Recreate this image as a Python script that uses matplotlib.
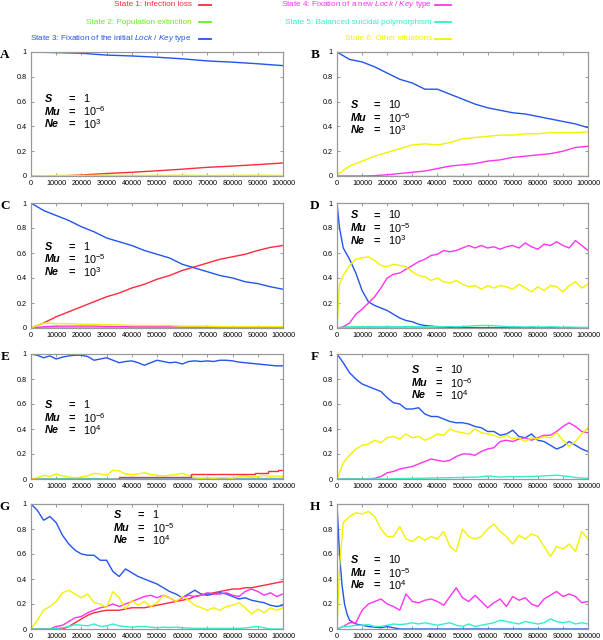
import numpy as np
import matplotlib
matplotlib.use('Agg')
import matplotlib.pyplot as plt
from matplotlib.lines import Line2D

plt.rcParams['font.family'] = ['Liberation Sans', 'DejaVu Sans']
plt.rcParams['mathtext.fontset'] = 'custom'
plt.rcParams['mathtext.rm'] = 'Liberation Sans'
plt.rcParams['mathtext.it'] = 'Liberation Sans:italic'
plt.rcParams['mathtext.bf'] = 'Liberation Sans:bold'

# ---------------- data ----------------
state_labels = [
    'State 1: Infection loss',
    'State 2: Population extinction',
    r'State 3: Fixation of the initial $\mathit{Lock\ /\ Key}$ type',
    r'State 4: Fixation of a new $\mathit{Lock\ /\ Key}$ type',
    'State 5: Balanced suicidal polymorphism',
    'State 6: Other situations',
]
state_colors = ['#ff2a3c', '#66ee22', '#2255ee', '#ff33ee', '#33eecc', '#f2f200']

x_ticks = [0, 10000, 20000, 30000, 40000, 50000, 60000, 70000, 80000, 90000, 100000]
y_ticks = [0, 0.2, 0.4, 0.6, 0.8, 1]
y_tick_labels = ['0', '0.2', '0.4', '0.6', '0.8', '1']

gen10 = np.arange(0, 100001, 10000)
gen5 = np.arange(0, 100001, 5000)
gen2 = np.arange(0, 100001, 2500)
gen2e = np.concatenate(([0, 1000], np.arange(2500, 100001, 2500)))

# Panel A  (S=1, Mu=1e-6, Ne=1e3)
a_red = [0, 0, 0.008, 0.02, 0.03, 0.042, 0.055, 0.07, 0.08, 0.092, 0.105]
a_green = [0, 0.002, 0.002, 0.002, 0.002, 0.002, 0.002, 0.002, 0.002, 0.002, 0.002]
a_blue = [1.0, 0.995, 0.99, 0.975, 0.968, 0.958, 0.945, 0.928, 0.918, 0.905, 0.89]
a_yellow = [0, 0.005, 0.004, 0.006, 0.004, 0.005, 0.006, 0.004, 0.005, 0.006, 0.004]

# Panel B  (S=10, Mu=1e-6, Ne=1e3)
b_green = [0.002, 0.002, 0.002, 0.002, 0.002, 0.002, 0.002, 0.002, 0.002, 0.002, 0.002,
           0.002, 0.002, 0.002, 0.002, 0.002, 0.002, 0.002, 0.002, 0.002, 0.002]
b_blue = [1.0, 0.94, 0.92, 0.88, 0.83, 0.78, 0.75, 0.70, 0.70, 0.66, 0.62,
          0.58, 0.55, 0.53, 0.51, 0.50, 0.48, 0.46, 0.44, 0.42, 0.39]
b_magenta = [0, 0, 0, 0.003, 0.01, 0.02, 0.03, 0.04, 0.06, 0.08, 0.09,
             0.10, 0.12, 0.13, 0.15, 0.16, 0.17, 0.18, 0.20, 0.23, 0.24]
b_yellow = [0.01, 0.08, 0.12, 0.16, 0.19, 0.22, 0.25, 0.26, 0.25, 0.27, 0.30,
            0.31, 0.32, 0.33, 0.33, 0.34, 0.34, 0.35, 0.35, 0.35, 0.355]

# Panel C  (S=1, Mu=1e-5, Ne=1e3)
c_red = [0.0, 0.04, 0.09, 0.13, 0.17, 0.21, 0.25, 0.28, 0.32, 0.35, 0.39,
         0.42, 0.46, 0.49, 0.52, 0.55, 0.57, 0.59, 0.62, 0.645, 0.66]
c_green = [0, 0.003, 0.003, 0.002, 0.002, 0.002, 0.002, 0.002, 0.002, 0.002, 0.002,
           0.002, 0.002, 0.002, 0.002, 0.002, 0.002, 0.002, 0.002, 0.002, 0.002]
c_blue = [1.0, 0.94, 0.90, 0.86, 0.81, 0.77, 0.72, 0.69, 0.66, 0.62, 0.59,
          0.56, 0.51, 0.48, 0.45, 0.42, 0.40, 0.37, 0.355, 0.33, 0.31]
c_magenta = [0.0, 0.01, 0.015, 0.015, 0.015, 0.015, 0.012, 0.012, 0.01, 0.01, 0.01,
             0.01, 0.008, 0.008, 0.008, 0.008, 0.006, 0.006, 0.006, 0.006, 0.005]
c_yellow = [0.0, 0.04, 0.035, 0.035, 0.03, 0.03, 0.025, 0.025, 0.02, 0.02, 0.02,
            0.02, 0.015, 0.015, 0.015, 0.012, 0.01, 0.01, 0.01, 0.01, 0.01]

# Panel D  (S=10, Mu=1e-5, Ne=1e3)  -- on gen2e grid (42 points)
d_blue = [1.0, 0.80, 0.64, 0.55, 0.44, 0.30, 0.21, 0.18, 0.16, 0.14,
          0.11, 0.08, 0.06, 0.05, 0.03, 0.02, 0.015, 0.01, 0.008, 0.005,
          0.004, 0.003, 0.003, 0.002, 0.002, 0.002, 0.002, 0.001, 0.001, 0.001,
          0.001, 0.001, 0.001, 0.001, 0.001, 0.001, 0.001, 0.001, 0.001, 0.001,
          0.001, 0.001]
d_magenta = [0, 0.0, 0.01, 0.04, 0.11, 0.15, 0.20, 0.25, 0.32, 0.40,
             0.43, 0.44, 0.47, 0.50, 0.53, 0.55, 0.58, 0.59, 0.62, 0.61,
             0.62, 0.64, 0.66, 0.64, 0.66, 0.64, 0.65, 0.63, 0.65, 0.66,
             0.64, 0.68, 0.65, 0.63, 0.67, 0.66, 0.69, 0.66, 0.64, 0.70,
             0.66, 0.62]
d_yellow = [0, 0.35, 0.42, 0.50, 0.55, 0.56, 0.57, 0.54, 0.50, 0.49,
            0.51, 0.50, 0.49, 0.45, 0.42, 0.41, 0.38, 0.40, 0.37, 0.36,
            0.38, 0.35, 0.33, 0.34, 0.31, 0.34, 0.32, 0.34, 0.33, 0.31,
            0.35, 0.32, 0.29, 0.33, 0.30, 0.34, 0.33, 0.29, 0.34, 0.37,
            0.32, 0.35]
# on gen2 grid (41 points)
d_green = [0, 0.008, 0.008, 0.006, 0.005, 0.004, 0.003, 0.003, 0.002, 0.002,
           0.002, 0.002, 0.002, 0.002, 0.002, 0.002, 0.002, 0.002, 0.002, 0.002,
           0.002, 0.002, 0.002, 0.002, 0.002, 0.002, 0.002, 0.002, 0.002, 0.002,
           0.002, 0.002, 0.002, 0.002, 0.002, 0.002, 0.002, 0.002, 0.002, 0.002, 0.002]
d_cyan = [0, 0.005, 0.008, 0.01, 0.01, 0.012, 0.01, 0.01, 0.012, 0.01,
          0.01, 0.012, 0.01, 0.01, 0.01, 0.012, 0.01, 0.01, 0.012, 0.01,
          0.012, 0.015, 0.018, 0.02, 0.02, 0.018, 0.015, 0.012, 0.01, 0.01,
          0.008, 0.01, 0.008, 0.008, 0.01, 0.008, 0.006, 0.008, 0.006, 0.005, 0.005]

# Panel E  (S=1, Mu=1e-6, Ne=1e4)
e_blue = [1.0, 0.99, 0.97, 0.985, 0.96, 0.975, 0.985, 0.99, 0.99, 0.98,
          0.95, 0.96, 0.97, 0.95, 0.93, 0.94, 0.945, 0.93, 0.91, 0.93,
          0.95, 0.94, 0.93, 0.935, 0.92, 0.94, 0.945, 0.94, 0.945, 0.94,
          0.95, 0.95, 0.945, 0.935, 0.93, 0.925, 0.92, 0.915, 0.91, 0.905, 0.905]
e_yellow = [0, 0.01, 0.03, 0.02, 0.04, 0.025, 0.015, 0.01, 0.015, 0.025,
            0.045, 0.04, 0.03, 0.07, 0.065, 0.04, 0.035, 0.04, 0.05, 0.035,
            0.03, 0.025, 0.03, 0.035, 0.045, 0.03, 0.01, 0.005, 0.01, 0.005,
            0.01, 0.01, 0.005, 0.02, 0.025, 0.015, 0.02, 0.03, 0.02, 0.025, 0.02]
e_red_gen = [0, 35000, 63500, 89000, 94000, 98000, 100000]
e_red = [0, 0.018, 0.038, 0.048, 0.062, 0.072, 0.072]
e_magenta_gen = [0, 35000, 100000]
e_magenta = [0, 0.008, 0.008]
e_cyan_gen = [0, 25000, 31000, 100000]
e_cyan = [0, 0.004, 0.0, 0.0]

# Panel F  (S=10, Mu=1e-6, Ne=1e4)
f_blue = [1.0, 0.93, 0.85, 0.80, 0.76, 0.74, 0.72, 0.70, 0.65, 0.61,
          0.60, 0.56, 0.56, 0.57, 0.52, 0.50, 0.50, 0.48, 0.46, 0.45,
          0.45, 0.44, 0.42, 0.41, 0.38, 0.38, 0.35, 0.36, 0.39, 0.34,
          0.33, 0.36, 0.31, 0.30, 0.27, 0.24, 0.26, 0.30, 0.27, 0.24, 0.22]
f_magenta = [0, 0, 0, 0, 0, 0, 0.005, 0.02, 0.05, 0.06,
             0.08, 0.09, 0.10, 0.12, 0.14, 0.16, 0.15, 0.14, 0.15, 0.18,
             0.20, 0.20, 0.19, 0.22, 0.24, 0.25, 0.30, 0.31, 0.30, 0.32,
             0.33, 0.31, 0.33, 0.35, 0.35, 0.38, 0.42, 0.45, 0.42, 0.38, 0.37]
f_cyan = [0, 0, 0, 0, 0, 0, 0, 0, 0, 0.002,
          0.003, 0.004, 0.005, 0.005, 0.006, 0.008, 0.008, 0.01, 0.01, 0.012,
          0.012, 0.015, 0.014, 0.018, 0.025, 0.02, 0.015, 0.018, 0.02, 0.018,
          0.02, 0.02, 0.022, 0.025, 0.028, 0.03, 0.025, 0.02, 0.012, 0.008, 0.005]
f_yellow = [0, 0.13, 0.19, 0.24, 0.27, 0.28, 0.31, 0.29, 0.33, 0.34,
            0.32, 0.36, 0.33, 0.34, 0.31, 0.33, 0.36, 0.35, 0.40, 0.38,
            0.37, 0.36, 0.40, 0.37, 0.36, 0.35, 0.33, 0.35, 0.32, 0.33,
            0.30, 0.33, 0.32, 0.34, 0.33, 0.37, 0.31, 0.26, 0.30, 0.36, 0.41]

# Panel G  (S=1, Mu=1e-5, Ne=1e4)
g_red = [0, 0, 0, 0, 0, 0, 0.02, 0.05, 0.08, 0.11,
         0.13, 0.14, 0.15, 0.15, 0.15, 0.16, 0.17, 0.17, 0.17, 0.18,
         0.19, 0.20, 0.21, 0.22, 0.23, 0.24, 0.26, 0.27, 0.28, 0.29,
         0.30, 0.31, 0.32, 0.32, 0.33, 0.33, 0.34, 0.35, 0.36, 0.37, 0.38]
g_blue = [1.0, 0.95, 0.87, 0.90, 0.85, 0.75, 0.68, 0.63, 0.60, 0.59,
          0.59, 0.55, 0.55, 0.46, 0.42, 0.48, 0.45, 0.42, 0.40, 0.38,
          0.36, 0.33, 0.30, 0.28, 0.25, 0.28, 0.31, 0.28, 0.27, 0.28,
          0.29, 0.28, 0.26, 0.24, 0.25, 0.23, 0.22, 0.21, 0.19, 0.18, 0.19]
g_magenta = [0, 0, 0, 0, 0.02, 0.03, 0.06, 0.09, 0.10, 0.13,
             0.15, 0.17, 0.18, 0.20, 0.18, 0.20, 0.22, 0.24, 0.26, 0.27,
             0.25, 0.27, 0.25, 0.22, 0.25, 0.27, 0.26, 0.27, 0.29, 0.28,
             0.28, 0.29, 0.27, 0.26, 0.30, 0.32, 0.30, 0.27, 0.29, 0.26, 0.28]
g_cyan = [0, 0, 0, 0, 0.005, 0.01, 0.02, 0.035, 0.03, 0.025,
          0.04, 0.02, 0.025, 0.04, 0.025, 0.02, 0.015, 0.02, 0.02, 0.015,
          0.01, 0.015, 0.012, 0.015, 0.01, 0.008, 0.005, 0.005, 0.005, 0.004,
          0.005, 0.005, 0.004, 0.005, 0.008, 0.015, 0.02, 0.01, 0, 0, 0]
g_yellow = [0, 0.07, 0.15, 0.18, 0.22, 0.29, 0.31, 0.28, 0.25, 0.28,
            0.21, 0.20, 0.17, 0.30, 0.25, 0.16, 0.23, 0.19, 0.22, 0.18,
            0.21, 0.27, 0.25, 0.22, 0.26, 0.23, 0.19, 0.17, 0.15, 0.17,
            0.15, 0.18, 0.19, 0.21, 0.17, 0.12, 0.16, 0.13, 0.17, 0.15, 0.17]

# Panel H  (S=10, Mu=1e-5, Ne=1e4)
h_blue_gen = [0, 1000, 2000, 3000, 4000, 5000, 7500, 10000, 12500, 15000,
              17500, 20000, 22500, 25000, 100000]
h_blue = [1.0, 0.6, 0.35, 0.2, 0.12, 0.07, 0.04, 0.03, 0.02, 0.015,
          0.01, 0.02, 0.01, 0.0, 0.0]
h_magenta = [0, 0.02, 0.05, 0.05, 0.15, 0.20, 0.22, 0.24, 0.20, 0.18,
             0.15, 0.28, 0.22, 0.21, 0.23, 0.24, 0.22, 0.19, 0.26, 0.33,
             0.25, 0.22, 0.27, 0.22, 0.17, 0.21, 0.24, 0.18, 0.26, 0.23,
             0.25, 0.20, 0.18, 0.24, 0.27, 0.30, 0.26, 0.28, 0.26, 0.21, 0.22]
h_cyan = [0, 0.02, 0.02, 0.03, 0.03, 0.035, 0.02, 0.02, 0.03, 0.04,
          0.035, 0.04, 0.05, 0.04, 0.05, 0.04, 0.03, 0.04, 0.05, 0.03,
          0.02, 0.04, 0.02, 0.03, 0.04, 0.05, 0.07, 0.06, 0.05, 0.04,
          0.06, 0.05, 0.04, 0.05, 0.08, 0.06, 0.05, 0.06, 0.04, 0.05, 0.04]
h_yellow = [0, 0.5, 0.85, 0.90, 0.93, 0.92, 0.94, 0.90, 0.80, 0.74,
            0.74, 0.82, 0.72, 0.70, 0.74, 0.71, 0.74, 0.72, 0.78, 0.66,
            0.62, 0.80, 0.74, 0.72, 0.74, 0.80, 0.84, 0.78, 0.74, 0.68,
            0.75, 0.72, 0.76, 0.74, 0.66, 0.58, 0.66, 0.64, 0.68, 0.62,
            0.78, 0.72]

# ---------------- figure ----------------
W, H = 603, 640
fig = plt.figure(figsize=(W / 100, H / 100), dpi=100)

def ax_rect(left_px, top_px, right_px, bottom_px):
    return [left_px / W, 1 - bottom_px / H, (right_px - left_px) / W, (bottom_px - top_px) / H]

rows = [(52, 176), (203, 328), (354, 479), (504, 629)]
cols = [(31, 283), (337, 588)]

C1, C2, C3, C4, C5, C6 = state_colors
LW = 1.0

panels = {
    'A': dict(series=[(gen10, a_red, C1), (gen10, a_green, C2), (gen10, a_blue, C3),
                      (gen10, a_yellow, C6)],
              params=('1', r'10$^{-6}$', r'10$^{3}$'), pos=(0.055, 0.62)),
    'B': dict(series=[(gen5, b_green, C2), (gen5, b_blue, C3), (gen5, b_magenta, C4),
                      (gen5, b_yellow, C6)],
              params=('10', r'10$^{-6}$', r'10$^{3}$'), pos=(0.055, 0.57)),
    'C': dict(series=[(gen5, c_red, C1), (gen5, c_green, C2), (gen5, c_blue, C3),
                      (gen5, c_magenta, C4), (gen5, c_yellow, C6)],
              params=('1', r'10$^{-5}$', r'10$^{3}$'), pos=(0.055, 0.65)),
    'D': dict(series=[(gen2, d_green, C2), (gen2e, d_blue, C3), (gen2e, d_magenta, C4),
                      (gen2, d_cyan, C5), (gen2e, d_yellow, C6)],
              params=('10', r'10$^{-5}$', r'10$^{3}$'), pos=(0.055, 0.90)),
    'E': dict(series=[(gen2, e_blue, C3), (e_magenta_gen, e_magenta, C4, 'steps-post'),
                      (e_cyan_gen, e_cyan, C5), (gen2, e_yellow, C6),
                      (e_red_gen, e_red, C1, 'steps-post')],
              params=('1', r'10$^{-6}$', r'10$^{4}$'), pos=(0.055, 0.59)),
    'F': dict(series=[(gen2, f_blue, C3), (gen2, f_magenta, C4), (gen2, f_cyan, C5),
                      (gen2, f_yellow, C6)],
              params=('10', r'10$^{-6}$', r'10$^{4}$'), pos=(0.30, 0.87)),
    'G': dict(series=[(gen2, g_red, C1), (gen2, g_blue, C3), (gen2, g_magenta, C4),
                      (gen2, g_cyan, C5), (gen2, g_yellow, C6)],
              params=('1', r'10$^{-5}$', r'10$^{4}$'), pos=(0.33, 0.91)),
    'H': dict(series=[(h_blue_gen, h_blue, C3), (gen2, h_magenta, C4), (gen2, h_cyan, C5),
                      (gen2e, h_yellow, C6)],
              params=('10', r'10$^{-5}$', r'10$^{4}$'), pos=(0.055, 0.55)),
}

order = ['A', 'B', 'C', 'D', 'E', 'F', 'G', 'H']
for i, key in enumerate(order):
    r, c = divmod(i, 2)
    top, bot = rows[r]
    left, right = cols[c]
    ax = fig.add_axes(ax_rect(left, top, right, bot))
    p = panels[key]
    for s in p['series']:
        xs, ys, col = s[0], s[1], s[2]
        ds = s[3] if len(s) > 3 else 'default'
        ax.plot(xs, ys, color=col, lw=LW, drawstyle=ds, solid_joinstyle='miter')
    ax.set_xlim(0, 100000)
    ax.set_ylim(0, 1)
    ax.set_xticks(x_ticks)
    ax.set_xticklabels([str(v) for v in x_ticks])
    ax.set_yticks(y_ticks)
    ax.set_yticklabels(y_tick_labels)
    ax.tick_params(direction='in', top=True, right=True, length=2.5, width=0.6,
                   color='#888888', labelsize=5.2, pad=3)
    for sp in ax.spines.values():
        sp.set_color('#999999')
        sp.set_linewidth(0.9)
    fx, fy = p['pos']
    names = ['S', 'Mu', 'Ne']
    for k in range(3):
        yy = fy - 0.1 * k
        ax.text(fx, yy, names[k], transform=ax.transAxes, fontsize=7.8,
                fontweight='bold', fontstyle='italic', ha='left', va='center')
        ax.text(fx + 0.105, yy, '=', transform=ax.transAxes, fontsize=7.8,
                fontweight='bold', ha='center', va='center')
        ax.text(fx + 0.15, yy, p['params'][k], transform=ax.transAxes, fontsize=7.8,
                ha='left', va='center')
    # panel letter
    lx = 5 if c == 0 else 315
    fig.text(lx / W, 1 - (top + 3) / H, key, fontsize=9.5, fontweight='bold',
             family='Liberation Serif', ha='center', va='center')

# legend
leg_rows_px = [5, 22, 39]
for i in range(6):
    col = i // 3
    row = i % 3
    y = 1 - leg_rows_px[row] / H
    tx = (192 if col == 0 else 432) / W
    l0, l1 = ((199, 211) if col == 0 else (435, 451))
    fig.text(tx, y, state_labels[i], color=state_colors[i], fontsize=5.9,
             ha='right', va='center')
    fig.add_artist(Line2D([l0 / W, l1 / W], [y, y], color=state_colors[i], lw=1.3,
                          transform=fig.transFigure))

fig.savefig('out.png', dpi=100)
